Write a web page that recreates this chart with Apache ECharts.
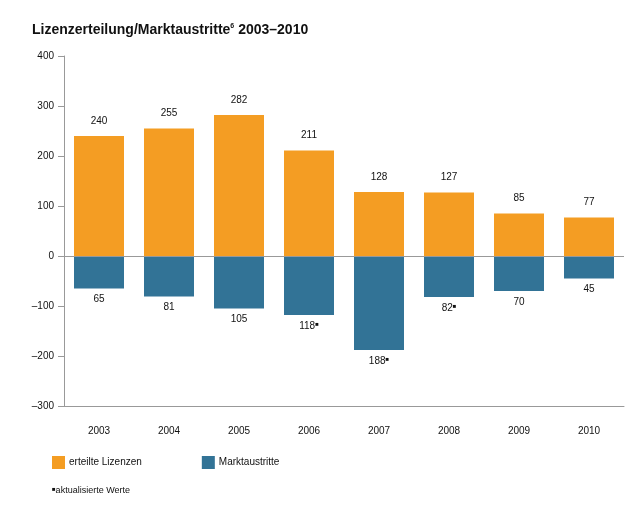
<!DOCTYPE html>
<html><head><meta charset="utf-8">
<script src="https://cdn.jsdelivr.net/npm/echarts@6/dist/echarts.min.js"></script>
<style>html,body{margin:0;padding:0;background:#fff}#c{width:636px;height:509px}</style>
</head><body><div id="c"></div>
<script>
const years = ['2003','2004','2005','2006','2007','2008','2009','2010'];
const licences = [240,255,282,211,128,127,85,77];
const exits = [-65,-81,-105,-118,-188,-82,-70,-45];
const revised = [false,false,false,true,true,true,false,false];
const yTicks = [-300,-200,-100,0,100,200,300,400];

const FONT = '"Liberation Sans", Arial, sans-serif';
const chart = echarts.init(document.getElementById('c'), null, {renderer:'canvas'});
chart.setOption({
  animation:false,
  textStyle:{fontFamily:FONT},
  title:{
    text:'{t|Lizenzerteilung/Marktaustritte}{s|6}{t| 2003–2010}',
    left:27, top:18,
    textStyle:{rich:{
      t:{fontFamily:FONT,fontSize:14,fontWeight:'bold',color:'#111'},
      s:{fontFamily:FONT,fontSize:7,fontWeight:'bold',color:'#111',verticalAlign:'top',padding:[0,0,8,0]}
    }}
  },
  legend:{
    left:52, top:456, padding:0, itemWidth:13, itemHeight:13, itemGap:60,
    icon:'rect',
    textStyle:{fontSize:10,color:'#111',fontFamily:FONT,padding:[0,0,0,-1]},
    data:['erteilte Lizenzen','Marktaustritte']
  },
  graphic:[{type:'text',left:52,top:486,style:{
    text:'{m|■}{t|aktualisierte Werte}',
    rich:{m:{fontSize:6,fill:'#111',verticalAlign:'top',padding:[0,0,4,0]},t:{fontSize:9,fill:'#111',fontFamily:FONT}}
  }}],
  grid:{left:64,right:12,top:56,bottom:103},
  xAxis:{
    type:'category', data:years,
    axisLine:{onZero:false,lineStyle:{color:'#999'}},
    axisTick:{alignWithLabel:true,length:10,lineStyle:{color:'#999'}},
    axisLabel:{fontSize:10,color:'#111',margin:20}
  },
  yAxis:{
    type:'value', min:yTicks[0], max:yTicks[yTicks.length-1], interval:100,
    axisLine:{show:true,lineStyle:{color:'#999'}},
    axisTick:{show:true,length:6,lineStyle:{color:'#999'}},
    splitLine:{show:false},
    axisLabel:{fontSize:10,color:'#111',margin:10,formatter:v=>String(v).replace('-','–')}
  },
  series:[
    {name:'erteilte Lizenzen',type:'bar',stack:'a',barWidth:50,data:licences,
     itemStyle:{color:'#F49D23'},
     label:{show:true,position:'top',distance:10,fontSize:10,color:'#111'},
     markLine:{silent:true,symbol:'none',label:{show:false},lineStyle:{color:'#999',type:'solid',width:1},data:[{yAxis:0}]}
    },
    {name:'Marktaustritte',type:'bar',stack:'a',barWidth:50,data:exits,
     itemStyle:{color:'#327396'},
     label:{show:true,position:'bottom',distance:6,color:'#111',
       formatter:p=>'{v|'+Math.abs(p.value)+'}'+(revised[p.dataIndex]?'{m|■}':''),
       rich:{v:{fontSize:10,color:'#111'},m:{fontSize:6,color:'#111',verticalAlign:'top',padding:[0,0,4,0]}}
     }
    }
  ]
});
</script></body></html>
